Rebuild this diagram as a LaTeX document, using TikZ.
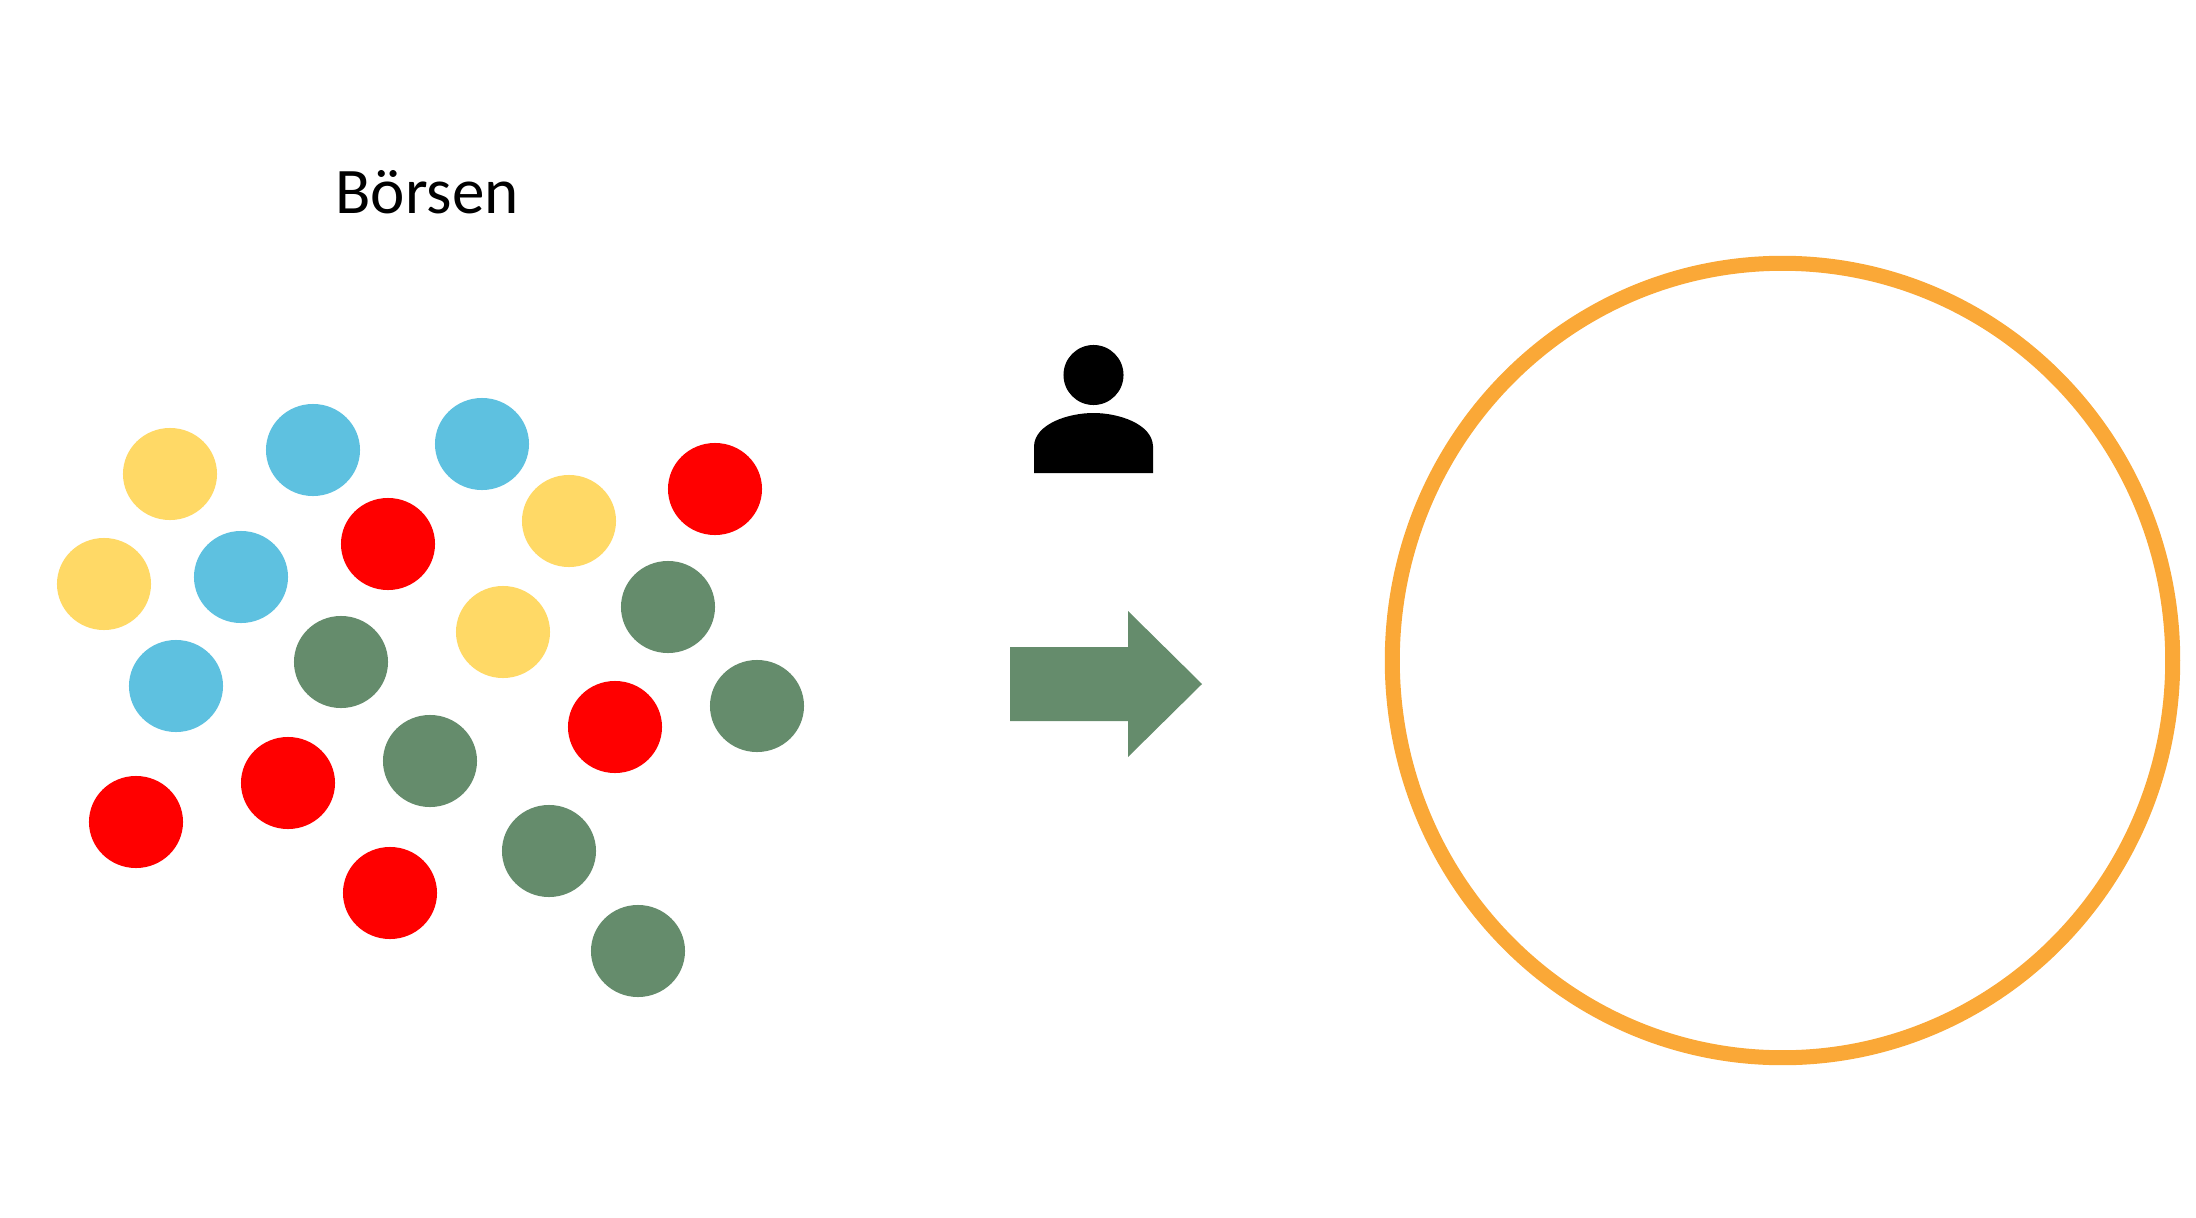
\documentclass[tikz,border=0pt]{standalone}
\usepackage{fontspec}
\setmainfont{Carlito}
\usetikzlibrary{shapes.geometric}
\definecolor{dotyellow}{RGB}{255,217,102}
\definecolor{dotblue}{RGB}{94,193,224}
\definecolor{dotred}{RGB}{255,0,0}
\definecolor{dotgreen}{RGB}{101,140,108}
\definecolor{ringorange}{RGB}{250,168,55}
\tikzset{
  ball/.style={ellipse, inner sep=0pt, minimum width=0.94cm, minimum height=0.92cm},
}
\begin{document}
\begin{tikzpicture}[x=0.01cm,y=-0.01cm]
    \useasboundingbox (0,0) rectangle (2196,1218);
    \node [anchor=base, font=\fontsize{18.5}{22}\selectfont] (title) at (427,213) {Börsen};
    % the market
    \foreach \n/\px/\py/\c in {1/170/474/dotyellow, 2/313/450/dotblue, 3/482/444/dotblue,
        4/715/489/dotred, 5/569/521/dotyellow, 6/388/544/dotred, 7/104/584/dotyellow,
        8/241/577/dotblue, 9/668/607/dotgreen, 10/503/632/dotyellow, 11/341/662/dotgreen,
        12/176/686/dotblue, 13/757/706/dotgreen, 14/615/727/dotred, 15/288/783/dotred,
        16/430/761/dotgreen, 17/136/822/dotred, 18/549/851/dotgreen, 19/390/893/dotred,
        20/638/951/dotgreen}
        \node [ball, fill=\c] (dot\n) at (\px,\py) {};
    % person
    \node [circle, fill=black, inner sep=0pt, minimum size=0.6cm] (head) at (1093.5,375) {};
    \fill (1034,473) -- (1034,446) .. controls (1035,424) and (1068,413) .. (1093.5,413)
        .. controls (1119,413) and (1152,424) .. (1153,446) -- (1153,473) -- cycle;
    % arrow
    \fill [dotgreen] (1010,647) -- (1128,647) -- (1128,611) -- (1202,684) -- (1128,757)
        -- (1128,721) -- (1010,721) -- cycle;
    \node [ellipse, draw=ringorange, line width=0.15cm, inner sep=0pt,
        minimum width=7.8cm, minimum height=7.94cm] (ring) at (1782.5,660.5) {};
\end{tikzpicture}
\end{document}
